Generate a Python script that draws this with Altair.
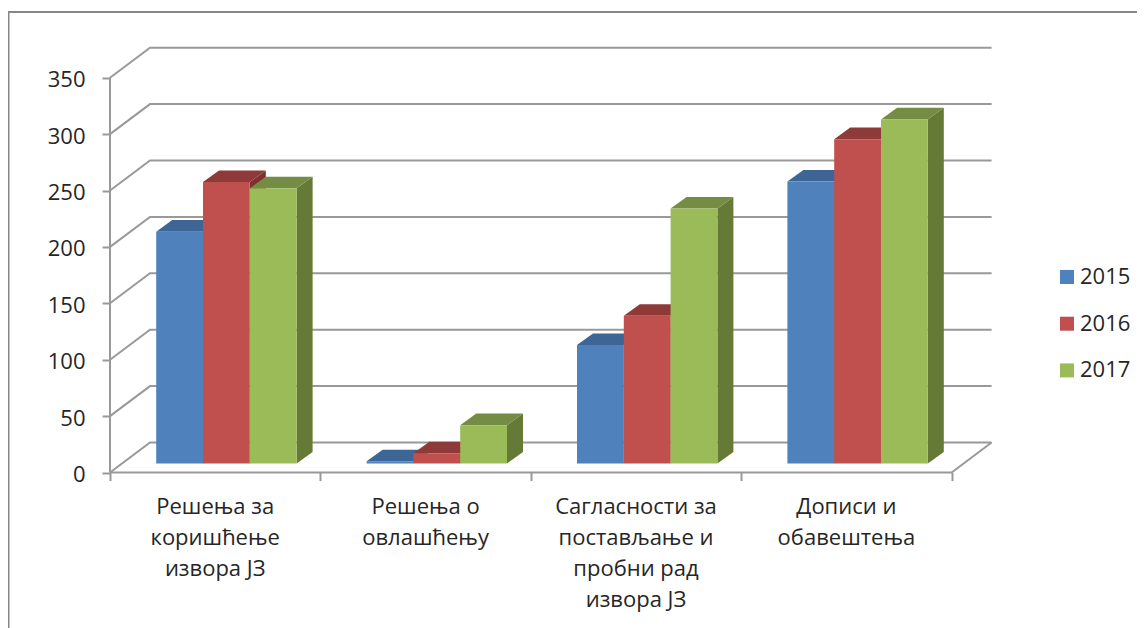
import altair as alt
import pandas as pd

categories = ["Решења за\nкоришћење\nизвора ЈЗ", "Решења о\nовлашћењу",
              "Сагласности за\nпостављање и\nпробни рад\nизвора ЈЗ", "Дописи и\nобавештења"]
years = ["2015", "2016", "2017"]
v2015 = [205.5, 2, 105, 250]
v2016 = [249.5, 9, 131, 287.5]
v2017 = [244, 34, 226, 305]
front_colors = ["#4F81BD", "#C0504D", "#9BBB59"]
top_colors = ["#3D6696", "#8E3A38", "#748C43"]
side_colors = ["#3A5F8C", "#7E312F", "#657A36"]
ticks_y = [0, 50, 100, 150, 200, 250, 300, 350]

W, H = 1129, 620
PX_X = 210.4      # pixels per category
PX_Y = 1.128      # pixels per value unit
X0, Y0 = 102, 464.5
x_dom = [-X0 / PX_X, (W - X0) / PX_X]
y_dom = [(Y0 - H) / PX_Y, Y0 / PX_Y]
GRID = "#999999"
TEXT = "#262626"
FONT = "Open Sans"
FS = 22

wall_dx, wall_dy = 40 / PX_X, 30 / PX_Y
bar_dx, bar_dy = 16 / PX_X, 11.6 / PX_Y
floor_shift = 9 / PX_Y
bar_w = 46.8 / PX_X
bar_start = 46.2 / PX_X

xs = alt.Scale(domain=x_dom, nice=False, zero=False)
ys = alt.Scale(domain=y_dom, nice=False, zero=False)
x_axis = alt.Axis(values=[0, 1, 2, 3, 4], orient="bottom", offset=-(H - Y0), labels=False, domain=False,
                  grid=False, tickSize=8, tickWidth=2, tickColor=GRID, title=None)
y_axis = alt.Axis(values=ticks_y, orient="left", offset=-X0, domain=False, grid=False, tickSize=8, tickWidth=2,
                  tickColor=GRID, labelFont=FONT, labelFontSize=FS, labelColor=TEXT, labelPadding=17,
                  labelOffset=2, title=None)
X = lambda f="x": alt.X(f"{f}:Q", scale=xs, axis=x_axis, stack=None)
Y = lambda f="y": alt.Y(f"{f}:Q", scale=ys, axis=y_axis, stack=None)

grid_rows = []
for v in ticks_y:
    grid_rows += [dict(g=v, o=0, x=0, y=v), dict(g=v, o=1, x=wall_dx, y=v + wall_dy),
                  dict(g=v, o=2, x=4 + wall_dx, y=v + wall_dy)]
grid_rows += [dict(g="front", o=0, x=0, y=0), dict(g="front", o=1, x=4, y=0),
              dict(g="front", o=2, x=4 + wall_dx, y=wall_dy),
              dict(g="axis", o=0, x=0, y=0), dict(g="axis", o=1, x=0, y=350)]
grid = alt.Chart(pd.DataFrame(grid_rows)).mark_line(color=GRID, strokeWidth=2).encode(
    x=X(), y=Y(), detail="g:N", order="o:Q")

layers = [grid]
series = [v2015, v2016, v2017]
for s, (yr, vals) in enumerate(zip(years, series)):
    fronts, sides, tops = [], [], []
    for c, v in enumerate(vals):
        x1 = c + bar_start + s * bar_w
        x2 = x1 + bar_w
        b = floor_shift
        fronts.append(dict(year=yr, x=x1, x2=x2, y=v + b, y2=b))
        sides += [dict(c=c, x=x2, y=v + b, y2=b), dict(c=c, x=x2 + bar_dx, y=v + b + bar_dy, y2=b + bar_dy)]
        tops += [dict(c=c, y=v + b, x=x1, x2=x2), dict(c=c, y=v + b + bar_dy, x=x1 + bar_dx, x2=x2 + bar_dx)]
    layers.append(alt.Chart(pd.DataFrame(sides)).mark_area(color=side_colors[s]).encode(
        x=X(), y=Y(), y2="y2:Q", detail="c:N"))
    layers.append(alt.Chart(pd.DataFrame(tops)).mark_area(color=top_colors[s], orient="horizontal").encode(
        y=Y(), x=X(), x2="x2:Q", detail="c:N"))
    layers.append(alt.Chart(pd.DataFrame(fronts)).mark_rect().encode(
        x=X(), x2="x2:Q", y=Y(), y2="y2:Q",
        color=alt.Color("year:N", scale=alt.Scale(domain=years, range=front_colors), legend=alt.Legend(
            title=None, orient="none", legendX=1048, legendY=258, symbolType="square", symbolSize=196,
            symbolStrokeWidth=0, labelFont=FONT, labelFontSize=FS, labelColor=TEXT, rowPadding=24.7,
            labelOffset=2))))

labels = alt.Chart(pd.DataFrame({"t": categories, "x": [i + 0.5 for i in range(4)], "y": [0] * 4})).mark_text(
    baseline="top", align="center", lineBreak="\n", lineHeight=31.3, font=FONT, fontSize=FS, color=TEXT, dy=24
).encode(x=X(), y=Y(), text="t:N")
layers.append(labels)

frame_top = alt.Chart(pd.DataFrame({"a": [0]})).mark_rule(color="#868686", strokeWidth=2).encode(
    x=alt.value(0), x2=alt.value(W), y=alt.value(4))
frame_left = alt.Chart(pd.DataFrame({"a": [0]})).mark_rule(color="#868686", strokeWidth=2).encode(
    x=alt.value(0.5), y=alt.value(4), y2=alt.value(H))
layers += [frame_top, frame_left]

chart = alt.layer(*layers).resolve_scale(x="shared", y="shared").properties(
    width=W, height=H, padding=0, autosize=alt.AutoSizeParams(type="none"), background="white"
).configure_view(stroke=None)
chart.save("out.html", embed_options={"renderer": "svg", "actions": False})
